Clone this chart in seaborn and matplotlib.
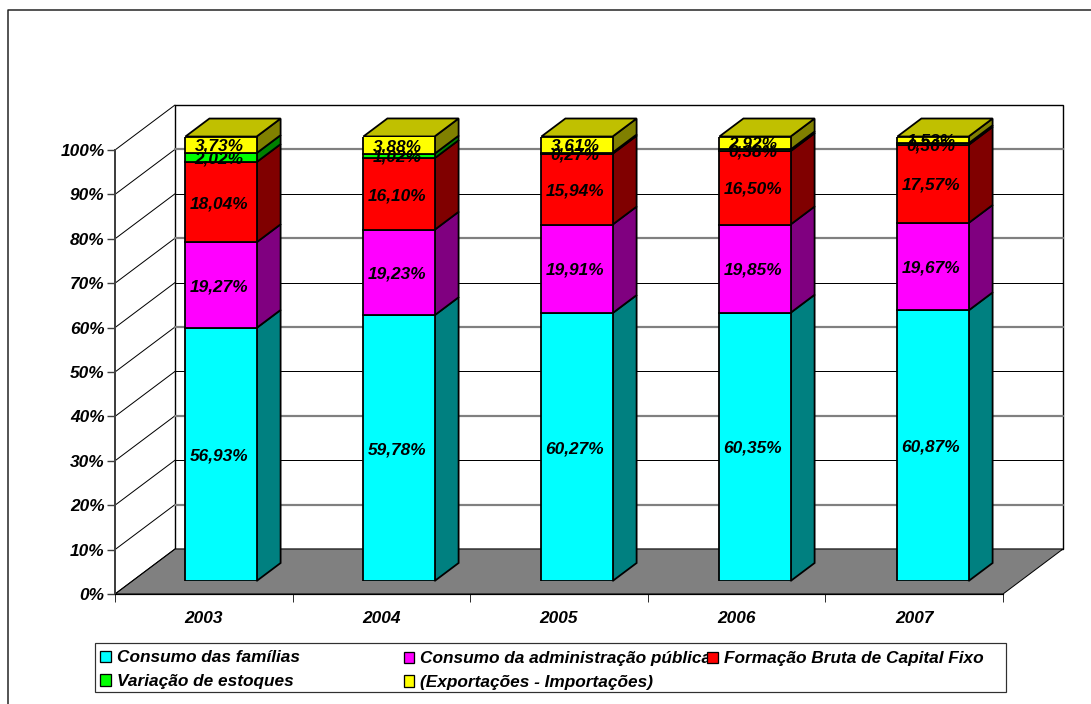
import matplotlib
matplotlib.use("Agg")
import matplotlib.pyplot as plt
from matplotlib.lines import Line2D
from matplotlib.patches import Patch, Polygon, Rectangle
import pandas as pd
import seaborn as sns

# Composition of GDP by year, in percent
years = ["2003", "2004", "2005", "2006", "2007"]
familias = [56.93, 59.78, 60.27, 60.35, 60.87]
governo = [19.27, 19.23, 19.91, 19.85, 19.67]
capital_fixo = [18.04, 16.10, 15.94, 16.50, 17.57]
estoques = [2.02, 1.02, 0.27, 0.38, 0.36]
saldo_externo = [3.73, 3.88, 3.61, 2.92, 1.53]

series_names = [
    "Consumo das famílias",
    "Consumo da administração pública",
    "Formação Bruta de Capital Fixo",
    "Variação de estoques",
    "(Exportações - Importações)",
]
series_values = [familias, governo, capital_fixo, estoques, saldo_externo]
front_colors = ["#00FFFF", "#FF00FF", "#FF0000", "#00FF00", "#FFFF00"]
side_colors = ["#008080", "#800080", "#800000", "#008000", "#808000"]
top_color = "#C0C000"
y_tick_labels = ["0%", "10%", "20%", "30%", "40%", "50%", "60%", "70%", "80%", "90%", "100%"]

W, H = 1091, 704
PX = 0.72  # one pixel in points at 100 dpi

sns.set_theme(style="white")
plt.rcParams["font.family"] = ["Liberation Sans", "DejaVu Sans"]
plt.rcParams["font.weight"] = "bold"
plt.rcParams["font.style"] = "italic"
plt.rcParams["text.color"] = "black"
plt.rcParams["xtick.labelcolor"] = "black"
plt.rcParams["ytick.labelcolor"] = "black"
FS = 12.4


def rect_px(left, right, top, bottom):
    """Axes rectangle from pixel edges measured from the top-left corner."""
    return [left / W, 1 - bottom / H, (right - left) / W, (bottom - top) / H]


fig = plt.figure(figsize=(W / 100, H / 100), dpi=100, facecolor="white")

# Outer chart frame, open towards the right and bottom edges
fig.add_artist(Line2D([7.5 / W, 7.5 / W, 1], [0, 1 - 10 / H, 1 - 10 / H],
                      color="#202020", lw=1.5 * PX, transform=fig.transFigure))

# Front plane: value and category axes
ax = fig.add_axes(rect_px(115, 1003, 150, 594), facecolor="none")
ax.set_xlim(-0.5, 4.5)
ax.set_ylim(0, 100)
unit_x = 888 / 5
unit_y = 444 / 100
wall_dx = 60 / unit_x
wall_dy = 45 / unit_y

# Back wall and floor
ax.add_patch(Polygon([(-0.5 + wall_dx, wall_dy), (4.5 + wall_dx, wall_dy),
                      (4.5 + wall_dx, 100 + wall_dy), (-0.5 + wall_dx, 100 + wall_dy)],
                     closed=True, fc="white", ec="black", lw=1.4 * PX, clip_on=False, zorder=1))
ax.add_patch(Polygon([(-0.5, 0), (4.5, 0), (4.5 + wall_dx, wall_dy), (-0.5 + wall_dx, wall_dy)],
                     closed=True, fc="#808080", ec="black", lw=1 * PX, clip_on=False, zorder=1.5))

# Grid lines across the left wall and the back wall
for p in range(10, 101, 10):
    ax.plot([-0.5, -0.5 + wall_dx], [p, p + wall_dy], color="black", lw=1 * PX,
            clip_on=False, zorder=1.2)
    if p < 100:
        straddles = (p // 10) % 2 == 1
        ax.plot([-0.5 + wall_dx, 4.5 + wall_dx], [p + wall_dy, p + wall_dy],
                color="#808080" if straddles else "black",
                lw=(2.2 if straddles else 1) * PX, clip_on=False, zorder=1.2)
ax.plot([-0.5, -0.5 + wall_dx], [0, wall_dy], color="black", lw=1 * PX, clip_on=False, zorder=1.6)

ax.set_yticks(range(0, 101, 10))
ax.set_yticklabels(y_tick_labels, fontsize=FS, va="center_baseline")
ax.set_xticks([-0.5, 0.5, 1.5, 2.5, 3.5, 4.5])
ax.set_xticklabels([])
ax.set_xticks(range(5), minor=True)
ax.set_xticklabels(years, minor=True, fontsize=FS)
ax.tick_params(axis="x", which="major", length=8 * PX, width=1 * PX, color="#303030", bottom=True)
ax.tick_params(axis="x", which="minor", length=0, pad=17 * PX, bottom=False)
ax.tick_params(axis="y", length=8 * PX, width=1.4 * PX, color="#404040", pad=2.5 * PX, left=True)
for side in ("top", "right"):
    ax.spines[side].set_visible(False)
ax.spines["left"].set_color("#404040")
ax.spines["left"].set_linewidth(2 * PX)
ax.spines["bottom"].set_color("black")
ax.spines["bottom"].set_linewidth(1.2 * PX)
ax.spines["left"].set_zorder(3)
ax.spines["bottom"].set_zorder(3)

# Bars stand a little behind the front plane, so they get their own shifted axes
bar_ax = fig.add_axes(rect_px(132.0, 1022.0, 136.5, 581), facecolor="none")
BAR_W = 0.4
EDGE = 1.8 * PX
depth_x = 24 / 178
depth_y = 18 / 4.445

bottoms = [0.0] * len(years)
for name, values, front, side in zip(series_names, series_values, front_colors, side_colors):
    frame = pd.DataFrame({"ano": years, "valor": values})
    sns.barplot(data=frame, x="ano", y="valor", order=years, color=front, saturation=1,
                width=BAR_W, bottom=bottoms, edgecolor="black", linewidth=EDGE,
                ax=bar_ax, zorder=3)
    for i, v in enumerate(values):
        x1 = i + BAR_W / 2
        y0, y1 = bottoms[i], bottoms[i] + v
        bar_ax.add_patch(Polygon([(x1, y0), (x1 + depth_x, y0 + depth_y),
                                  (x1 + depth_x, y1 + depth_y), (x1, y1)],
                                 closed=True, fc=side, ec="black", lw=EDGE,
                                 clip_on=False, zorder=2.5))
        label = f"{v:.2f}%".replace(".", ",")
        bar_ax.text(i - 2 / 178, y0 + v / 2, label, ha="center", va="center_baseline",
                    fontsize=FS, color="black", zorder=6)
    bottoms = [b + v for b, v in zip(bottoms, values)]

# Lid on top of each stack
for i, top in enumerate(bottoms):
    x0, x1 = i - BAR_W / 2, i + BAR_W / 2
    bar_ax.add_patch(Polygon([(x0, top), (x1, top), (x1 + depth_x, top + depth_y),
                              (x0 + depth_x, top + depth_y)],
                             closed=True, fc=top_color, ec="black", lw=EDGE,
                             clip_on=False, zorder=2.6))
bar_ax.set_xlim(-0.5, 4.5)
bar_ax.set_ylim(0, 100)
bar_ax.axis("off")

# Legend: one box, three independently placed columns of entries
fig.add_artist(Rectangle((95 / W, 1 - 692 / H), 911 / W, 49 / H, transform=fig.transFigure,
                         fc="white", ec="#303030", lw=1.2 * PX, zorder=1))
columns = [(100, 650.5, 0.50, [0, 3]), (403.5, 651.5, 0.50, [1, 4]), (707, 651.5, 0.50, [2])]
for x_px, top_px, spacing, indices in columns:
    handles = [Patch(fc=front_colors[k], ec="black", lw=1.3 * PX) for k in indices]
    labels = [series_names[k] for k in indices]
    fig.legend(handles, labels, loc="upper left",
               bbox_to_anchor=(x_px / W, 1 - top_px / H), bbox_transform=fig.transFigure,
               frameon=False, borderpad=0, borderaxespad=0, fontsize=FS,
               handlelength=0.62, handleheight=0.62, handletextpad=0.34, labelspacing=spacing,
               labelcolor="black")

fig.savefig("out.png", dpi=100, facecolor="white")
